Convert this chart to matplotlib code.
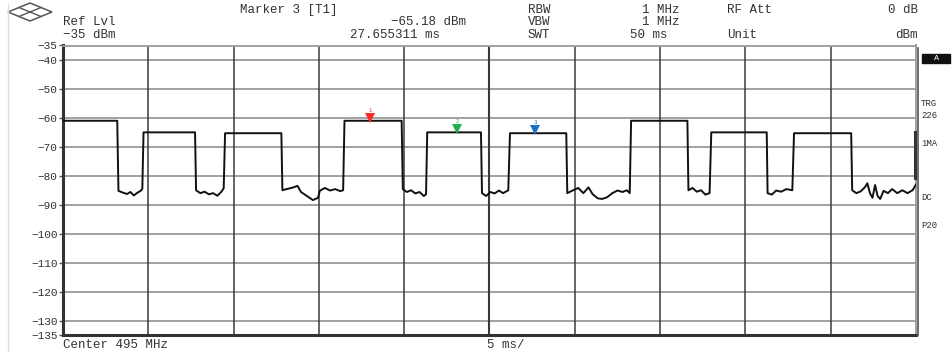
import matplotlib
matplotlib.use("Agg")
import matplotlib.pyplot as plt
from matplotlib.transforms import offset_copy
from matplotlib.patches import Polygon, Rectangle

# trace: time (ms) and level (dBm)
t_ms = [0.0, 3.18, 3.25, 3.5, 3.75, 3.95, 4.15, 4.35, 4.55, 4.65,
        4.72, 7.74, 7.8, 8.05, 8.3, 8.55, 8.8, 9.05, 9.3, 9.42,
        9.5, 12.8, 12.86, 13.1, 13.4, 13.75, 13.95, 14.3, 14.65, 14.95,
        15.05, 15.35, 15.65, 15.95, 16.25, 16.42,
        16.5, 19.85, 19.92, 20.15, 20.4, 20.65, 20.9, 21.15, 21.28,
        21.35, 24.5, 24.56, 24.8, 25.05, 25.3, 25.55, 25.8, 26.1,
        26.2, 29.5, 29.56, 29.9, 30.2, 30.5, 30.8, 31.05, 31.35, 31.6,
        31.9, 32.2, 32.5, 32.8, 33.05, 33.22,
        33.3, 36.6, 36.66, 36.9, 37.15, 37.4, 37.65, 37.9,
        38.0, 41.25, 41.3, 41.55, 41.8, 42.1, 42.4, 42.75,
        42.85, 46.2, 46.26, 46.5, 46.75, 47.0, 47.15, 47.3, 47.45, 47.6,
        47.75, 47.9, 48.1, 48.35, 48.6, 48.9, 49.2, 49.5, 49.8, 50.0]
level_dbm = [-61.0, -61.0, -85.2, -85.8, -86.3, -85.6, -86.8, -85.9, -85.2, -84.5,
             -65.0, -65.0, -85.0, -86.0, -85.5, -86.4, -86.0, -86.9, -85.4, -84.3,
             -65.3, -65.3, -85.0, -84.6, -84.2, -83.5, -85.6, -87.0, -88.4, -87.6,
             -85.2, -84.2, -85.1, -84.6, -85.3, -85.0,
             -61.0, -61.0, -84.6, -85.6, -85.0, -86.1, -85.6, -87.0, -86.4,
             -65.0, -65.0, -86.0, -87.0, -85.6, -86.1, -85.1, -86.0, -85.0,
             -65.3, -65.3, -86.0, -85.0, -84.2, -86.0, -84.0, -86.4, -87.8, -88.0,
             -87.4, -86.0, -85.1, -85.6, -85.0, -86.0,
             -61.0, -61.0, -85.0, -84.2, -85.5, -85.0, -86.5, -86.0,
             -65.0, -65.0, -86.0, -86.5, -85.1, -85.5, -84.6, -85.0,
             -65.3, -65.3, -85.0, -86.0, -85.4, -84.0, -82.6, -86.0, -87.6, -83.2,
             -87.0, -88.0, -85.2, -86.0, -84.6, -86.0, -85.0, -86.0, -85.0, -83.0]

marker_t = [18.0, 23.1, 27.655]
marker_v = [-61.0, -65.0, -65.18]
marker_labels = ["1", "2", "3"]
marker_colors = ["#ff2a2a", "#1fb04a", "#1f6fc8"]

y_ticks = [-35, -40, -50, -60, -70, -80, -90, -100, -110, -120, -130, -135]
x_ticks = [0, 5, 10, 15, 20, 25, 30, 35, 40, 45, 50]

W, H = 952, 352
fig = plt.figure(figsize=(W / 100, H / 100), dpi=100)
mono = "Liberation Mono"
tc = "#333333"


def px(x, y):
    return x / W, 1 - y / H


ax = fig.add_axes([63 / W, (H - 335) / H, (916 - 63) / W, (335 - 45.5) / H])
ax.set_xlim(0, 50)
ax.set_ylim(-135, -35)

for v in y_ticks[1:-1]:
    ax.axhline(v, color="#9a9a9a", lw=1.3, zorder=1)
for t in x_ticks[1:-1]:
    ax.axvline(t, color="#3a3a3a", lw=1.5 if t == 25 else 1.1, zorder=1)

ax.plot(t_ms, level_dbm, color="#111111", lw=1.4, zorder=3)

for t, v, lab, c in zip(marker_t, marker_v, marker_labels, marker_colors):
    tr = offset_copy(ax.transData, fig=fig, y=3, units="dots")
    ax.plot([t], [v], marker="v", ms=7, color=c, transform=tr, zorder=4,
            markeredgewidth=0)
    tr2 = offset_copy(ax.transData, fig=fig, y=8, units="dots")
    ax.text(t, v, lab, color=c, fontsize=4, ha="center", va="bottom",
            transform=tr2, zorder=4, family=mono)

ax.set_xticks([])
ax.set_yticks(y_ticks)
ax.set_yticklabels([str(v).replace("-", "\u2212") for v in y_ticks],
                   family=mono, fontsize=8, color=tc)
ax.tick_params(axis="y", length=3, width=1, color="#555555", pad=1)
for side in ["top", "right"]:
    ax.spines[side].set_color("#9a9a9a")
    ax.spines[side].set_linewidth(1.3)
for side in ["left", "bottom"]:
    ax.spines[side].set_color("#333333")
    ax.spines[side].set_linewidth(2.2)

# right edge dark bar
fig.add_artist(plt.Line2D([918 / W, 918 / W], [1 - 48 / H, 1 - 335 / H],
                          color="#555555", lw=1.2))
fig.add_artist(plt.Line2D([915 / W, 915 / W], [1 - 132 / H, 1 - 178 / H],
                          color="#333333", lw=2.2))
# faint outer frame
fig.add_artist(plt.Line2D([8 / W, 8 / W], [1 - 4 / H, 0],
                          color="#dddddd", lw=1))

# logo
cx, cy = 30, 12
diamond = [px(cx - 22, cy), px(cx, cy - 9), px(cx + 22, cy), px(cx, cy + 9)]
fig.add_artist(Polygon(diamond, closed=True, fill=False, ec="#555555", lw=1.1))
fig.add_artist(plt.Line2D([px(cx - 11, 0)[0], px(cx + 11, 0)[0]],
                          [px(0, cy + 4.5)[1], px(0, cy - 4.5)[1]],
                          color="#555555", lw=1))
fig.add_artist(plt.Line2D([px(cx - 11, 0)[0], px(cx + 11, 0)[0]],
                          [px(0, cy - 4.5)[1], px(0, cy + 4.5)[1]],
                          color="#555555", lw=1))

kw = dict(family=mono, fontsize=9, color=tc, va="center")


def txt(x, y, s, ha="left", **extra):
    d = dict(kw)
    d.update(extra)
    fig.text(*px(x, y), s, ha=ha, **d)


# header
txt(240, 10, "Marker 3 [T1]")
txt(63, 22, "Ref Lvl")
txt(63, 35, "\u221235 dBm")
txt(466, 22, "\u221265.18 dBm", ha="right")
txt(440, 35, "27.655311 ms", ha="right")
txt(528, 10, "RBW")
txt(528, 22, "VBW")
txt(528, 35, "SWT")
txt(680, 10, "1 MHz", ha="right")
txt(680, 22, "1 MHz", ha="right")
txt(668, 35, "50 ms", ha="right")
txt(727, 10, "RF Att")
txt(727, 35, "Unit")
txt(918, 10, "0 dB", ha="right")
txt(918, 35, "dBm", ha="right")

# footer
txt(63, 345, "Center 495 MHz")
txt(487, 345, "5 ms/")

# right side annotations
fig.add_artist(Rectangle(px(922, 63), 28 / W, 9 / H, color="#111111"))
txt(936, 58.5, "A", ha="center", color="white", fontsize=6)
txt(921, 104, "TRG", fontsize=6.5)
txt(921, 116, "226", fontsize=6.5)
txt(921, 143, "1MA", fontsize=6.5)
txt(921, 197, "DC", fontsize=6.5)
txt(921, 226, "P20", fontsize=6.5)

fig.savefig("out.png", dpi=100)
